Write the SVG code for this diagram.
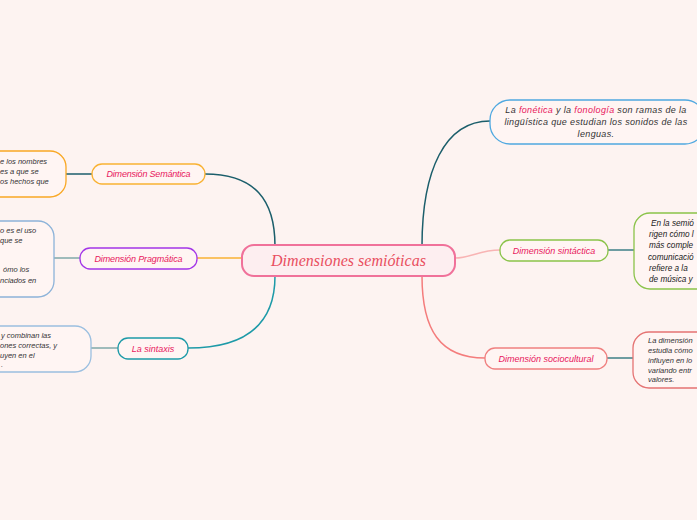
<svg xmlns="http://www.w3.org/2000/svg" width="697" height="520" viewBox="0 0 697 520">
<defs>
<style>
.bg{fill:#fdf3f1}
.box{fill:#fff5f3;stroke-width:1.3}
.lbl{font-family:"Liberation Sans",Arial,sans-serif;font-style:italic;font-size:9px;fill:#e8175d;text-anchor:middle}
.det{font-family:"Liberation Sans",Arial,sans-serif;font-style:italic;font-size:7.5px;fill:#333}
.detb{font-family:"Liberation Sans",Arial,sans-serif;font-style:italic;font-size:8.2px;fill:#1a1a1a}
.fon{font-family:"Liberation Sans",Arial,sans-serif;font-style:italic;font-size:9px;fill:#333;text-anchor:middle;letter-spacing:0.35px}
.pk{fill:#e8175d}
.con{fill:none;stroke-width:1.5}
</style>
</defs>
<rect class="bg" x="0" y="0" width="697" height="520"/>

<g id="connectors">
<path class="con" stroke="#1b5e6b" d="M205,174 C255,174 275,200 275,246"/>
<path class="con" stroke="#f9b233" d="M197,258 L242,258"/>
<path class="con" stroke="#1d9aa8" d="M188,348 C250,348 275,320 275,276"/>
<path class="con" stroke="#1b5e6b" d="M422,246 C422,170 445,121 490,121"/>
<path class="con" stroke="#f8b4b4" d="M455,258 C470,258 480,250 500,250"/>
<path class="con" stroke="#f47c7c" d="M422,276 C422,330 440,358 485,358"/>
<path class="con" stroke="#1b5e6b" d="M66,174 L92,174"/>
<path class="con" stroke="#7fa9a8" stroke-width="2.2" d="M54,258 L80,258"/>
<path class="con" stroke="#7fa9a8" stroke-width="2.2" d="M91,348 L118,348"/>
<path class="con" stroke="#3d7f86" d="M608,250 L634,250"/>
<path class="con" stroke="#3d7f86" d="M607,358 L633,358"/>
</g>

<g id="central">
<rect x="242" y="245" width="213" height="31" rx="12" fill="#fdeef0" stroke="#f0719a" stroke-width="2"/>
<text x="348.5" y="266" font-family="'Liberation Serif',serif" font-style="italic" font-size="16" fill="#e94f5f" text-anchor="middle" textLength="155">Dimensiones semióticas</text>
</g>

<g id="semantica">
<rect class="box" x="92" y="164" width="113" height="20" rx="10" stroke="#f9b233"/>
<text class="lbl" x="148.5" y="177.2" textLength="84">Dimensión Semántica</text>
</g>
<g id="semantica-detalle">
<rect class="box" x="-150" y="151" width="216" height="46" rx="16" stroke="#f9a825"/>
<text class="det" x="0" y="164">e los nombres</text>
<text class="det" x="0" y="174">es a que se</text>
<text class="det" x="0" y="184">os hechos que</text>
</g>

<g id="pragmatica">
<rect class="box" x="80" y="248" width="117" height="21" rx="10" stroke="#a335e8"/>
<text class="lbl" x="138.5" y="261.5" textLength="88">Dimensión Pragmática</text>
</g>
<g id="pragmatica-detalle">
<rect class="box" x="-150" y="221" width="204" height="76" rx="16" stroke="#8db3d9"/>
<text class="det" x="0" y="232.5">o es el uso</text>
<text class="det" x="0" y="242.5">que se</text>
<text class="det" x="3" y="272">ómo los</text>
<text class="det" x="0" y="282.5">nciados en</text>
</g>

<g id="sintaxis">
<rect class="box" x="118" y="338" width="70" height="21" rx="10" stroke="#1d9aa8"/>
<text class="lbl" x="153" y="351.5">La sintaxis</text>
</g>
<g id="sintaxis-detalle">
<rect class="box" x="-150" y="326" width="241" height="46" rx="16" stroke="#9bbfe0"/>
<text class="det" x="1" y="337.5">y combinan las</text>
<text class="det" x="0" y="347.5">ones correctas, y</text>
<text class="det" x="0" y="357.5">uyen en el</text>
<text class="det" x="1" y="366.5">.</text>
</g>

<g id="fonetica">
<rect class="box" x="490" y="100" width="215" height="44" rx="20" stroke="#4fa8e0"/>
<text class="fon" x="596" y="113">La <tspan class="pk">fonética</tspan> y la <tspan class="pk">fonología</tspan> son ramas de la</text>
<text class="fon" x="596" y="125">lingüística que estudian los sonidos de las</text>
<text class="fon" x="596" y="137">lenguas.</text>
</g>

<g id="sintactica">
<rect class="box" x="500" y="240" width="108" height="21" rx="10" stroke="#8bc34a"/>
<text class="lbl" x="554" y="253.5">Dimensión sintáctica</text>
</g>
<g id="sintactica-detalle">
<rect class="box" x="634" y="213" width="120" height="76" rx="16" stroke="#8bc34a"/>
<text class="detb" x="651" y="226">En la semió</text>
<text class="detb" x="649" y="237">rigen cómo l</text>
<text class="detb" x="649" y="248">más comple</text>
<text class="detb" x="648" y="260">comunicació</text>
<text class="detb" x="649" y="271">refiere a la</text>
<text class="detb" x="649" y="282">de música y</text>
</g>

<g id="sociocultural">
<rect class="box" x="485" y="348" width="122" height="21" rx="10" stroke="#f08080"/>
<text class="lbl" x="546" y="361.5">Dimensión sociocultural</text>
</g>
<g id="sociocultural-detalle">
<rect class="box" x="633" y="332" width="120" height="56" rx="16" stroke="#e57373"/>
<text class="det" x="648" y="343">La dimensión</text>
<text class="det" x="648" y="353">estudia cómo</text>
<text class="det" x="648" y="363">influyen en lo</text>
<text class="det" x="648" y="373">variando entr</text>
<text class="det" x="648" y="382">valores.</text>
</g>
</svg>
